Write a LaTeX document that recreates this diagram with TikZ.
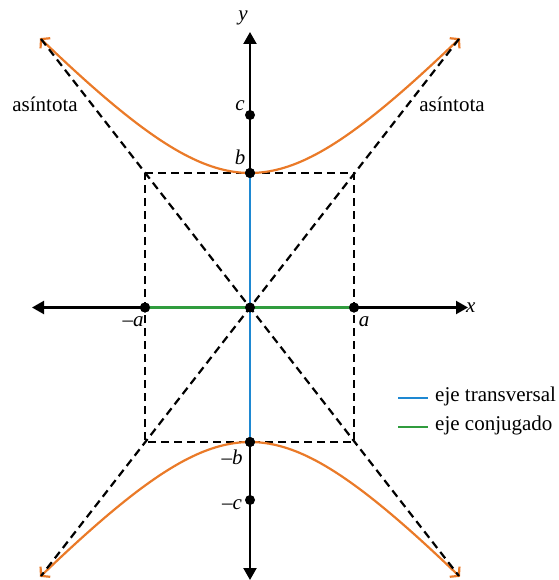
\documentclass[tikz,border=0pt]{standalone}
\usepackage{fontspec}
\setmainfont{Liberation Serif}
\usetikzlibrary{arrows.meta}
\definecolor{hyporange}{RGB}{234,122,40}
\definecolor{axblue}{RGB}{30,136,210}
\definecolor{axgreen}{RGB}{48,156,62}
\begin{document}
\begin{tikzpicture}[x=1pt,y=-1pt,
  axis/.style={line width=2.2pt,{Triangle[length=12pt,width=13pt]}-{Triangle[length=12pt,width=13pt]}},
  dashline/.style={line width=2.2pt,dash pattern=on 8pt off 5pt},
  curve/.style={draw=hyporange,line width=2.2pt,{Straight Barb[length=6pt,width=14pt]}-{Straight Barb[length=6pt,width=14pt]}},
  dot/.style={circle,fill=black,inner sep=0pt,minimum size=10pt},
  lbl/.style={font=\fontsize{21}{25}\selectfont,inner sep=0pt},
  blueax/.style={draw=axblue,line width=2.2pt},
  greenax/.style={draw=axgreen,line width=2.2pt},
]
\useasboundingbox (0,0) rectangle (558,580);

% points
\coordinate (O) at (250,307.5);
\coordinate (TL) at (145,173);
\coordinate (TR) at (354,173);
\coordinate (BL) at (145,442);
\coordinate (BR) at (354,442);
\coordinate (A1) at (41,39);
\coordinate (A2) at (459,576);
\coordinate (A3) at (459,39);
\coordinate (A4) at (41,576);
\coordinate (XL) at (32,307.5);
\coordinate (XR) at (468,307.5);
\coordinate (YT) at (250,32);
\coordinate (YB) at (250,580);

% dashed box
\draw[dashline] (TL) -- (TR) -- (BR) -- (BL) -- cycle;

% hyperbola branches
\draw[curve] plot[domain=-1.3187:1.3187,samples=90,variable=\t]
  ({250+121*0.5*(exp(\t)-exp(-\t))},{307.5-134.5*0.5*(exp(\t)+exp(-\t))});
\draw[curve] plot[domain=-1.3187:1.3187,samples=90,variable=\t]
  ({250+121*0.5*(exp(\t)-exp(-\t))},{307.5+134.5*0.5*(exp(\t)+exp(-\t))});

% axes
\draw[axis] (XL) -- (XR);
\draw[axis] (YB) -- (YT);

% dots
\node[dot] (b) at (250,173) {};
\node[dot] (nb) at (250,442) {};
\node[dot] (c) at (250,115) {};
\node[dot] (nc) at (250,500) {};
\node[dot] (a) at (354,307.5) {};
\node[dot] (na) at (145,307.5) {};

% transverse and conjugate axes
\draw[blueax] (b.center) -- (nb.center);
\draw[greenax] (na.center) -- (a.center);
\node[dot] (o) at (O) {};
\node[dot] at (b) {};
\node[dot] at (nb) {};
\node[dot] at (a) {};
\node[dot] at (na) {};

% asymptotes (over the centre dot)
\draw[dashline] (A1) -- (A2);
\draw[dashline] (A3) -- (A4);

% labels
\node[lbl] (ly) at (243,18) {\textit{y}};
\node[lbl,anchor=west] (lx) at (466,307.5) {\textit{x}};
\node[lbl] (lc) at (240,106) {\textit{c}};
\node[lbl] (lb) at (240,157) {\textit{b}};
\node[lbl] (lna) at (133,322) {\textit{–a}};
\node[lbl] (la) at (364,322) {\textit{a}};
\node[lbl] (lnb) at (232,457) {\textit{–b}};
\node[lbl] (lnc) at (232,505) {\textit{–c}};
\node[lbl] (as1) at (45,104) {asíntota};
\node[lbl] (as2) at (452,104) {asíntota};

% legend
\coordinate (L1a) at (398,398);
\coordinate (L1b) at (428,398);
\coordinate (L2a) at (398,427);
\coordinate (L2b) at (428,427);
\draw[blueax] (L1a) -- (L1b);
\draw[greenax] (L2a) -- (L2b);
\node[lbl,anchor=west] (t1) at (435,396) {eje transversal};
\node[lbl,anchor=west] (t2) at (435,425) {eje conjugado};
\end{tikzpicture}
\end{document}
